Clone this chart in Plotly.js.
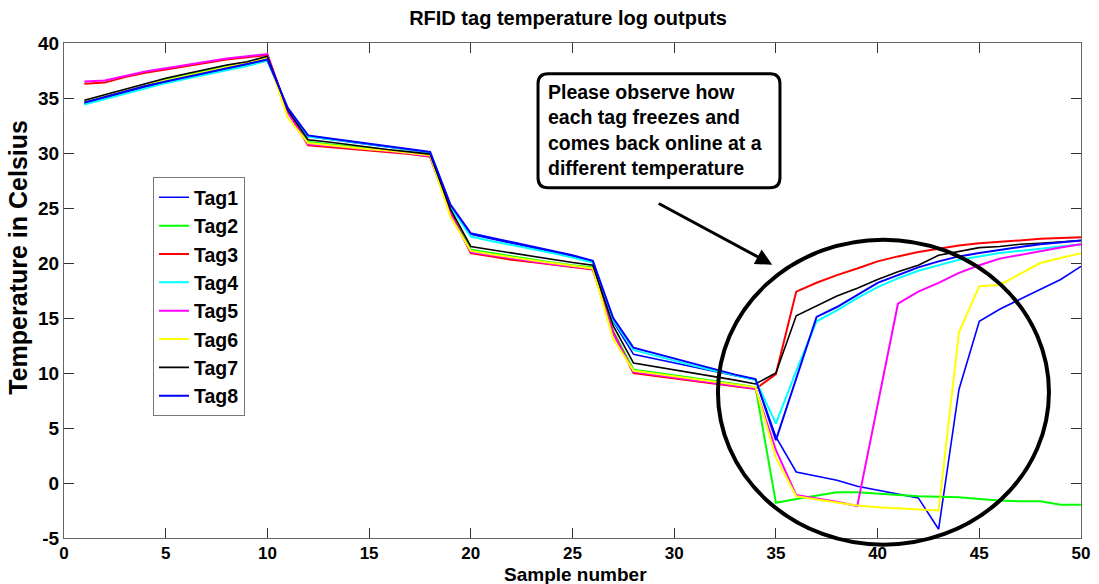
<!DOCTYPE html>
<html>
<head>
<meta charset="utf-8">
<script src="https://cdn.plot.ly/plotly-3.0.1.min.js"></script>
<style>html,body{margin:0;padding:0;background:#fff;}#chart{width:1099px;height:584px;}</style>
</head>
<body>
<div id="chart"></div>
<script>
// ---- data ----
var samples = [1,2,3,4,5,6,7,8,9,10,11,12,13,14,15,16,17,18,19,20,21,22,23,24,25,26,27,28,29,30,31,32,33,34,35,36,37,38,39,40,41,42,43,44,45,46,47,48,49,50];

var tag1 = [34.5,35.0,35.5,36.0,36.4,36.8,37.2,37.6,38.0,38.4, 34.0,
  31.5,31.25,31.0,30.75,30.5,30.3,30.05, 25.2,
  22.6,22.2,21.8,21.4,21.0,20.6,20.1, 14.7,
  11.7,11.3,10.9,10.5,10.1,9.75,9.4,
  4.2,1.0,0.6,0.25,-0.3,-0.65,-1.05,-1.35,-4.2,8.5,14.7,15.8,16.7,17.6,18.5,19.7];
var tag2 = [34.7,35.2,35.7,36.2,36.7,37.1,37.5,37.9,38.2,38.7, 33.8,
  31.0,30.8,30.6,30.4,30.2,30.05,29.85, 24.6,
  21.2,20.9,20.6,20.3,20.05,19.8,19.6, 13.8,
  10.3,10.05,9.8,9.55,9.3,9.0,8.7,
  -1.8,-1.45,-1.15,-0.85,-0.85,-0.97,-1.1,-1.2,-1.24,-1.3,-1.45,-1.6,-1.67,-1.67,-1.97,-1.97];
var tag3 = [36.3,36.4,36.9,37.3,37.6,37.9,38.2,38.5,38.7,38.9, 33.8,
  30.7,30.55,30.4,30.25,30.1,29.9,29.65, 24.6,
  20.9,20.6,20.3,20.1,19.85,19.6,19.4, 13.7,
  10.0,9.75,9.5,9.25,9.0,8.75,8.55,
  9.9,17.4,18.2,18.9,19.5,20.15,20.6,21.0,21.3,21.6,21.8,21.9,22.05,22.2,22.25,22.35];
var tag4 = [34.4,34.9,35.4,35.9,36.35,36.75,37.15,37.55,37.9,38.4, 34.0,
  31.5,31.3,31.05,30.8,30.55,30.35,30.05, 25.1,
  22.4,22.0,21.65,21.3,20.9,20.5,20.05, 14.8,
  12.1,11.6,11.1,10.65,10.2,9.75,9.35,
  5.4,10.2,14.7,15.7,16.8,17.8,18.6,19.3,19.8,20.3,20.6,20.9,21.1,21.3,21.5,21.7];
var tag5 = [36.5,36.6,37.0,37.4,37.7,38.0,38.3,38.6,38.8,39.0, 33.7,
  30.8,30.65,30.5,30.3,30.15,29.95,29.7, 24.5,
  21.0,20.7,20.4,20.15,19.9,19.65,19.45, 13.6,
  10.1,9.85,9.6,9.35,9.1,8.85,8.6,
  3.0,-1.1,-1.4,-1.7,-2.1,7.2,16.3,17.4,18.2,19.1,19.8,20.4,20.75,21.05,21.4,21.7];
var tag6 = [34.7,35.2,35.7,36.2,36.6,37.0,37.4,37.8,38.2,38.7, 33.2,
  30.9,30.7,30.55,30.35,30.2,30.0,29.8, 24.2,
  21.1,20.8,20.5,20.25,20.0,19.75,19.5, 13.1,
  10.2,9.95,9.7,9.45,9.2,8.95,8.7,
  2.3,-1.2,-1.5,-1.75,-2.05,-2.2,-2.3,-2.4,-2.5,13.7,17.9,18.0,19.0,20.0,20.45,20.9];
var tag7 = [34.8,35.3,35.8,36.3,36.8,37.2,37.6,38.0,38.3,38.8, 33.9,
  31.2,31.0,30.75,30.5,30.3,30.1,29.9, 24.9,
  21.5,21.2,20.9,20.6,20.3,20.05,19.8, 14.3,
  10.9,10.6,10.3,10.0,9.65,9.35,9.0,
  10.0,15.2,16.1,17.0,17.7,18.5,19.2,19.8,20.7,21.05,21.4,21.5,21.7,21.8,21.9,22.05];
var tag8 = [34.6,35.1,35.6,36.1,36.5,36.9,37.3,37.7,38.1,38.5, 34.1,
  31.6,31.35,31.1,30.85,30.6,30.4,30.1, 25.3,
  22.7,22.3,21.9,21.5,21.1,20.7,20.2, 15.0,
  12.3,11.8,11.3,10.8,10.3,9.85,9.45,
  3.9,9.5,15.1,16.0,17.1,18.2,18.9,19.6,20.15,20.6,20.9,21.2,21.45,21.7,21.9,22.05];

var seriesNames = ['Tag1','Tag2','Tag3','Tag4','Tag5','Tag6','Tag7','Tag8'];
var seriesValues = [tag1,tag2,tag3,tag4,tag5,tag6,tag7,tag8];
var seriesColors = ['#0000FF','#00FF00','#FF0000','#00FFFF','#FF00FF','#FFFF00','#000000','#0000FF'];
var seriesWidths = [1.6,2,2,2,2,2,1.6,2];

var xTicks = [0,5,10,15,20,25,30,35,40,45,50];
var yTicks = [-5,0,5,10,15,20,25,30,35,40];
var yTickText = ['-5','0','5','10','15','20','25','30','35','40'];

var chartTitle = 'RFID tag temperature log outputs';
var xTitle = 'Sample number';
var yTitle = 'Temperature in Celsius';
var noteLines = ['Please observe how','each tag freezes and','comes back online at a','different temperature'];

// ---- chart ----
var FONT = 'Liberation Sans, Arial, Helvetica, sans-serif';
var traces = seriesNames.map(function(n,i){
  return {x: samples, y: seriesValues[i], name: n, type: 'scatter', mode: 'lines',
          legendgroup: n, line: {color: seriesColors[i], width: seriesWidths[i]}};
});

function rr(x0,y0,x1,y1,rx,ry){
  return 'M'+(x0+rx)+','+y1+' L'+(x1-rx)+','+y1+' Q'+x1+','+y1+' '+x1+','+(y1-ry)+
         ' L'+x1+','+(y0+ry)+' Q'+x1+','+y0+' '+(x1-rx)+','+y0+
         ' L'+(x0+rx)+','+y0+' Q'+x0+','+y0+' '+x0+','+(y0+ry)+
         ' L'+x0+','+(y1-ry)+' Q'+x0+','+y1+' '+(x0+rx)+','+y1+' Z';
}

var PH = 495; // plot height in px (for paper conversion)
var layout = {
  width: 1099, height: 584,
  margin: {l: 64, r: 18, t: 43, b: 46},
  paper_bgcolor: '#fff', plot_bgcolor: '#fff',
  font: {family: FONT, color: '#000'},
  title: {text: chartTitle, font: {size: 20, weight: 700, family: FONT, color:'#000'},
          x: 0.4956, xref: 'paper', xanchor: 'center', y: 0.969, yref: 'container', yanchor: 'middle'},
  xaxis: {range: [0,50], tickvals: xTicks, ticks: 'inside', ticklen: 10, tickcolor: '#333', tickwidth: 1,
          showline: true, linecolor: '#666', linewidth: 1, mirror: 'ticks', showgrid: false, zeroline: false,
          tickfont: {size: 17, weight: 700, family: FONT, color:'#000'}, automargin: false},
  yaxis: {range: [-5,40], tickvals: yTicks, ticktext: yTickText, ticks: 'inside', ticklen: 10, tickcolor: '#333', tickwidth: 1,
          showline: true, linecolor: '#666', linewidth: 1, mirror: 'ticks', showgrid: false, zeroline: false,
          tickfont: {size: 19, weight: 700, family: FONT, color:'#000'}, automargin: false},
  legend: {x: 0.0875, y: 0.729, xanchor: 'left', yanchor: 'top', bgcolor: '#fff', bordercolor: '#777', borderwidth: 1,
           font: {size: 19.5, weight: 700, family: FONT, color:'#000'}, tracegroupgap: 0},
  shapes: [
    {type: 'circle', xref: 'paper', yref: 'paper', x0: 0.643, x1: 0.9685, y0: -0.0135, y1: 0.6026,
     line: {color: '#000', width: 4}},
    {type: 'path', xref: 'paper', yref: 'paper', path: rr(0.4661,0.7077,0.7040,0.938,0.0098,0.0202),
     line: {color: '#000', width: 3}}
  ],
  annotations: [
    {xref: 'paper', yref: 'paper', x: 0.474, y: 0.8238, xanchor: 'left', yanchor: 'middle', align: 'left',
     text: noteLines.join('<br>'), showarrow: false, font: {size: 19.5, weight: 700, family: FONT, color:'#000'}},
    {xref: 'x', yref: 'y', x: 34.82, y: 19.85, ax: -115, ay: -62, text: '', showarrow: true,
     arrowhead: 2, arrowsize: 1.1, arrowwidth: 3, arrowcolor: '#000'},
    {xref: 'paper', yref: 'paper', x: (575-64)/1017, y: (538.3-574.5)/PH, xanchor: 'center', yanchor: 'middle',
     text: xTitle, showarrow: false, font: {size: 19, weight: 700, family: FONT, color:'#000'}},
    {xref: 'paper', yref: 'paper', x: (18-64)/1017, y: (538.3-258)/PH, xanchor: 'center', yanchor: 'middle',
     textangle: -90, text: yTitle, showarrow: false, font: {size: 25, weight: 700, family: FONT, color:'#000'}}
  ],
  showlegend: true
};

Plotly.newPlot('chart', traces, layout, {displayModeBar: false, staticPlot: true});
</script>
</body>
</html>
